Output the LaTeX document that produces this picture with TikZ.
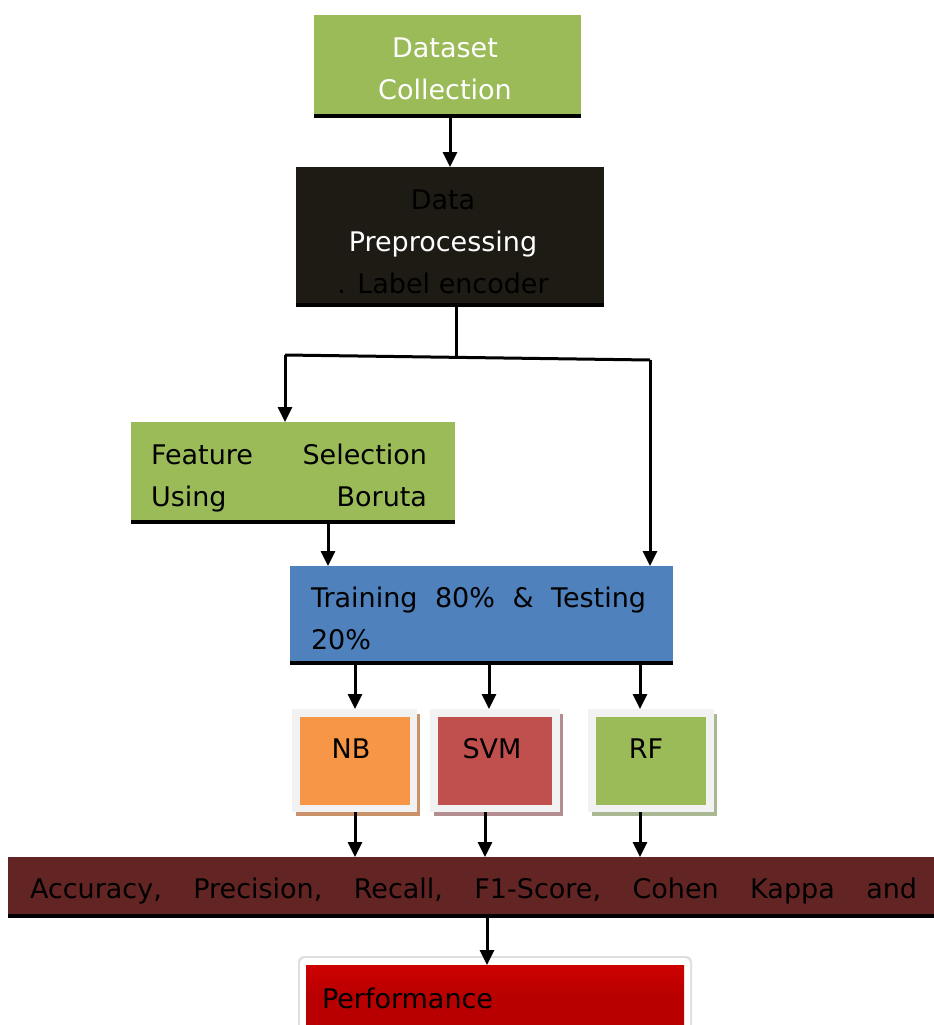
\documentclass[tikz,border=0pt]{standalone}
\usepackage{fontspec}
\setmainfont{DejaVu Sans}
\usetikzlibrary{arrows.meta,calc}
\definecolor{cgreen}{HTML}{9BBB59}
\definecolor{cdark}{HTML}{1E1B14}
\definecolor{cblue}{HTML}{4F81BD}
\definecolor{corange}{HTML}{F79646}
\definecolor{cred}{HTML}{C0504D}
\definecolor{cframe}{HTML}{F2F2F2}
\definecolor{cmaroon}{HTML}{632523}
\definecolor{cperf}{HTML}{B80000}
\definecolor{shNB}{HTML}{C9926B}
\definecolor{shSVM}{HTML}{B38D8F}
\definecolor{shRF}{HTML}{A9B792}
\tikzset{
  box/.style={inner sep=0pt, outer sep=0pt, font=\fontsize{27}{42}\selectfont},
  bline/.style={line width=3.5pt},
  arr/.style={line width=3pt, -{Triangle[width=14pt,length=15pt]}},
  conn/.style={line width=3pt},
  mframe/.style={fill=cframe, inner sep=0pt, outer sep=0pt},
}
\begin{document}
\begin{tikzpicture}[x=1pt,y=1pt]
\useasboundingbox (0,0) rectangle (934,-1025);
% Dataset collection
\node[box, fill=cgreen, minimum width=267, minimum height=101] (dc) at (447.5,-65.5) {};
\node[box, text=white, align=center] (dct) at (445,-69) {Dataset\\Collection};
\draw[bline] (dc.south west) -- (dc.south east);
% Data preprocessing
\node[box, fill=cdark, minimum width=308, minimum height=138] (dp) at (450,-236) {};
\node[box, align=center] (dpt) at (443,-242) {{\color{black}Data}\\{\color{white}Preprocessing}\\{\color{black}. Label encoder}};
\draw[bline] (dp.south west) -- (dp.south east);
\draw[arr] (dc.south -| 450,0) -- (dp.north -| 450,0);
% Feature selection
\node[box, fill=cgreen, minimum width=324, minimum height=100] (fs) at (293,-472) {};
\node[box, text width=276, align=justify] (fst) at (289,-478) {Feature\hfill Selection\\Using\hfill Boruta};
\draw[bline] (fs.south west) -- (fs.south east);
% Training
\node[box, fill=cblue, minimum width=383, minimum height=97] (tr) at (481.5,-614.5) {};
\node[box, text width=335, anchor=north west] (trt) at (311,-587) {Training\hfill 80\%\hfill \&\hfill Testing\\20\%};
\draw[bline] (tr.south west) -- (tr.south east);
% branch
\coordinate (j) at (456,-356);
\coordinate (bl) at (285,-355);
\coordinate (br) at (650,-360);
\draw[conn] (dp.south -| j) -- (j);
\draw[conn] (bl) -- (br);
\draw[arr] (bl) -- (bl |- fs.north);
\draw[arr] (br) -- (br |- tr.north);
\draw[arr] (fs.south -| 328,0) -- (tr.north -| 328,0);
% model boxes
\fill[shNB] (296,-714) rectangle (420,-816);
\node[mframe, minimum width=125, minimum height=103] (nbf) at (354.5,-760.5) {};
\node[box, fill=corange, minimum width=110, minimum height=88] (nb) at (355,-761) {};
\node[box] at (351,-749) {NB};
\fill[shSVM] (434,-714) rectangle (563,-816);
\node[mframe, minimum width=130, minimum height=103] (svmf) at (495,-760.5) {};
\node[box, fill=cred, minimum width=114, minimum height=88] (svm) at (495,-761) {};
\node[box] at (492,-749) {SVM};
\fill[shRF] (592,-714) rectangle (717,-816);
\node[mframe, minimum width=126, minimum height=103] (rff) at (651,-760.5) {};
\node[box, fill=cgreen, minimum width=110, minimum height=88] (rf) at (651,-761) {};
\node[box] at (646,-749) {RF};
\draw[arr] (tr.south -| 355,0) -- (nbf.north -| 355,0);
\draw[arr] (tr.south -| 489,0) -- (svmf.north -| 489,0);
\draw[arr] (tr.south -| 640,0) -- (rff.north -| 640,0);
% metrics
\node[box, fill=cmaroon, minimum width=926, minimum height=59] (me) at (471,-886.5) {};
\node[box, text width=887, align=justify] (met) at (473.5,-891) {Accuracy,\hfill Precision,\hfill Recall,\hfill F1-Score,\hfill Cohen\hfill Kappa\hfill and};
\draw[bline] (me.south west) -- (me.south east);
\draw[arr] (nbf.south -| 355,0) -- (me.north -| 355,0);
\draw[arr] (svmf.south -| 485,0) -- (me.north -| 485,0);
\draw[arr] (rff.south -| 640,0) -- (me.north -| 640,0);
% performance
\fill[gray!25, rounded corners=6pt] (298,-956) rectangle (692,-1030);
\fill[white, rounded corners=5pt] (300,-958) rectangle (690,-1030);
\node[box, minimum width=378, minimum height=64, anchor=north west, top color=cperf!70!red, bottom color=cperf, middle color=cperf] (pf) at (306,-965) {};
\node[box, anchor=west] (pft) at (322,-998) {Performance};
\draw[arr] (me.south -| 487,0) -- (pf.north -| 487,0);
\end{tikzpicture}
\end{document}
